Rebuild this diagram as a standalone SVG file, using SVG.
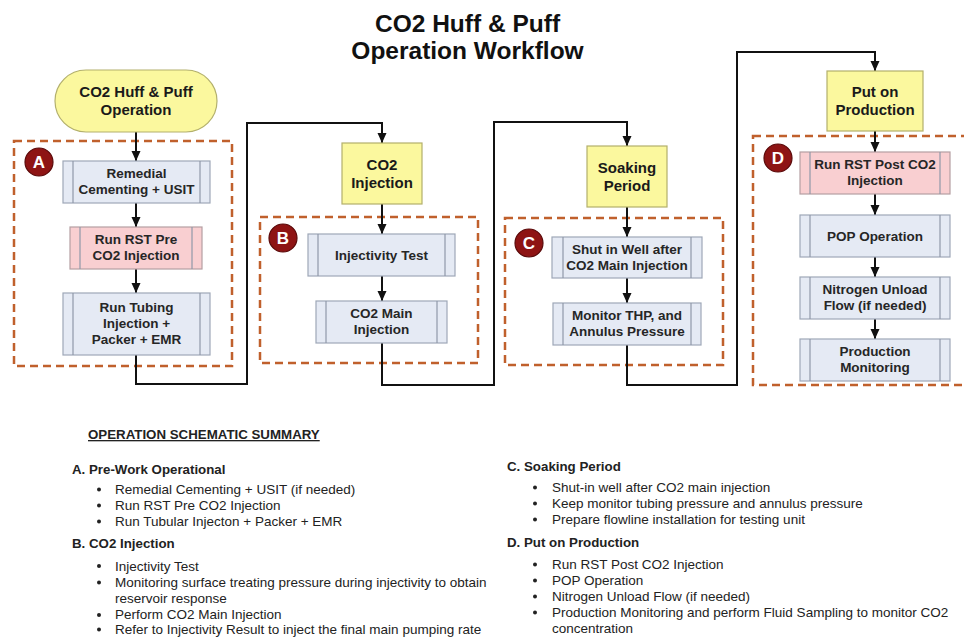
<svg xmlns="http://www.w3.org/2000/svg" width="964" height="637" viewBox="0 0 964 637">
<defs>
<marker id="arr" markerUnits="userSpaceOnUse" markerWidth="10" markerHeight="10" refX="10" refY="5" orient="auto">
<path d="M0,0.5 L10,5 L0,9.5 z" fill="#111"/>
</marker>
<style>
.title{font-family:"Liberation Sans",Arial,sans-serif;font-weight:bold;font-size:24.5px;fill:#111;text-anchor:middle}
.nt{font-family:"Liberation Sans",Arial,sans-serif;font-weight:bold;font-size:13.5px;fill:#262626;text-anchor:middle}
.yt{font-family:"Liberation Sans",Arial,sans-serif;font-weight:bold;font-size:15px;fill:#1a1a1a;text-anchor:middle}
.proc{fill:#e5eaf4;stroke:#9ea7b7;stroke-width:1.2}
.pink{fill:#f9cfd1;stroke:#b59fa2;stroke-width:1.2}
.inner{stroke:#8f98a8;stroke-width:1.2}
.yel{fill:#fbf89e;stroke:#b3b06c;stroke-width:1.2}
.grp{fill:none;stroke:#c0602c;stroke-width:2.5;stroke-dasharray:8 5}
.badge{fill:#8e1414;stroke:#5a0a0a;stroke-width:1.2}
.bt{font-family:"Liberation Sans",Arial,sans-serif;font-weight:bold;font-size:17px;fill:#fff;text-anchor:middle}
.conn{fill:none;stroke:#111;stroke-width:2}
.sh{font-family:"Liberation Sans",Arial,sans-serif;font-weight:bold;font-size:13.3px;fill:#222}
.st{font-family:"Liberation Sans",Arial,sans-serif;font-size:13.5px;fill:#222}
.dot{fill:#222}
</style>
</defs>
<rect width="964" height="637" fill="#fff"/>

<g id="title">
<text class="title" x="467.5" y="32">CO2 Huff &amp; Puff</text>
<text class="title" x="467.5" y="59">Operation Workflow</text>
</g>

<g id="groupA">
<rect class="grp" x="14" y="141" width="218" height="225"/>
<circle class="badge" cx="39" cy="162" r="14"/>
<text class="bt" x="39" y="168">A</text>
</g>
<g id="groupB">
<rect class="grp" x="260" y="217" width="218" height="146"/>
<circle class="badge" cx="283" cy="238" r="14"/>
<text class="bt" x="283" y="244">B</text>
</g>
<g id="groupC">
<rect class="grp" x="505" y="218" width="218" height="147"/>
<circle class="badge" cx="529" cy="243" r="14"/>
<text class="bt" x="529" y="249">C</text>
</g>
<g id="groupD">
<rect class="grp" x="753" y="136" width="240" height="249"/>
<circle class="badge" cx="778" cy="158" r="14"/>
<text class="bt" x="778" y="164">D</text>
</g>

<g id="connectors">
<path class="conn" d="M136,132 V161" marker-end="url(#arr)"/>
<path class="conn" d="M136,203 V227" marker-end="url(#arr)"/>
<path class="conn" d="M136,269 V293" marker-end="url(#arr)"/>
<path class="conn" d="M136,355 V384 H247 V123 H382 V143" marker-end="url(#arr)"/>
<path class="conn" d="M382,204 V234" marker-end="url(#arr)"/>
<path class="conn" d="M382,276 V301" marker-end="url(#arr)"/>
<path class="conn" d="M382,343 V385 H494 V122 H627 V146" marker-end="url(#arr)"/>
<path class="conn" d="M627,207 V237" marker-end="url(#arr)"/>
<path class="conn" d="M627,278 V303" marker-end="url(#arr)"/>
<path class="conn" d="M627,345 V385 H737 V52 H875 V71" marker-end="url(#arr)"/>
<path class="conn" d="M875,131 V152" marker-end="url(#arr)"/>
<path class="conn" d="M875,194 V215" marker-end="url(#arr)"/>
<path class="conn" d="M875,257 V277" marker-end="url(#arr)"/>
<path class="conn" d="M875,319 V339" marker-end="url(#arr)"/>
</g>

<g id="start">
<rect class="yel" x="55" y="70" width="162" height="62" rx="31"/>
<text class="yt" x="136" y="97">CO2 Huff &amp; Puff</text>
<text class="yt" x="136" y="115">Operation</text>
</g>

<g id="remedial">
<rect class="proc" x="63" y="161" width="147" height="42"/>
<line class="inner" x1="73" y1="161" x2="73" y2="203"/><line class="inner" x1="200" y1="161" x2="200" y2="203"/>
<text class="nt" x="136.5" y="178">Remedial</text>
<text class="nt" x="136.5" y="194">Cementing + USIT</text>
</g>
<g id="rstpre">
<rect class="pink" x="70" y="227" width="132" height="42"/>
<line class="inner" x1="80" y1="227" x2="80" y2="269"/><line class="inner" x1="192" y1="227" x2="192" y2="269"/>
<text class="nt" x="136" y="244">Run RST Pre</text>
<text class="nt" x="136" y="260">CO2 Injection</text>
</g>
<g id="tubing">
<rect class="proc" x="63" y="293" width="147" height="62"/>
<line class="inner" x1="73" y1="293" x2="73" y2="355"/><line class="inner" x1="200" y1="293" x2="200" y2="355"/>
<text class="nt" x="136.5" y="312">Run Tubing</text>
<text class="nt" x="136.5" y="328">Injection +</text>
<text class="nt" x="136.5" y="344">Packer + EMR</text>
</g>

<g id="co2injection">
<rect class="yel" x="342" y="143" width="80" height="61"/>
<text class="yt" x="382" y="170">CO2</text>
<text class="yt" x="382" y="188">Injection</text>
</g>
<g id="injtest">
<rect class="proc" x="308" y="234" width="147" height="42"/>
<line class="inner" x1="318" y1="234" x2="318" y2="276"/><line class="inner" x1="445" y1="234" x2="445" y2="276"/>
<text class="nt" x="381.5" y="260">Injectivity Test</text>
</g>
<g id="co2main">
<rect class="proc" x="316" y="301" width="131" height="42"/>
<line class="inner" x1="326" y1="301" x2="326" y2="343"/><line class="inner" x1="437" y1="301" x2="437" y2="343"/>
<text class="nt" x="381.5" y="318">CO2 Main</text>
<text class="nt" x="381.5" y="334">Injection</text>
</g>

<g id="soaking">
<rect class="yel" x="587" y="146" width="80" height="61"/>
<text class="yt" x="627" y="173">Soaking</text>
<text class="yt" x="627" y="191">Period</text>
</g>
<g id="shutin">
<rect class="proc" x="552" y="237" width="150" height="41"/>
<line class="inner" x1="563" y1="237" x2="563" y2="278"/><line class="inner" x1="691" y1="237" x2="691" y2="278"/>
<text class="nt" x="627" y="254">Shut in Well after</text>
<text class="nt" x="627" y="270">CO2 Main Injection</text>
</g>
<g id="monitor">
<rect class="proc" x="553" y="303" width="148" height="42"/>
<line class="inner" x1="563" y1="303" x2="563" y2="345"/><line class="inner" x1="691" y1="303" x2="691" y2="345"/>
<text class="nt" x="627" y="320">Monitor THP, and</text>
<text class="nt" x="627" y="336">Annulus Pressure</text>
</g>

<g id="putonproduction">
<rect class="yel" x="827" y="71" width="96" height="60"/>
<text class="yt" x="875" y="97">Put on</text>
<text class="yt" x="875" y="115">Production</text>
</g>
<g id="rstpost">
<rect class="pink" x="800" y="152" width="150" height="42"/>
<line class="inner" x1="810" y1="152" x2="810" y2="194"/><line class="inner" x1="940" y1="152" x2="940" y2="194"/>
<text class="nt" x="875" y="169">Run RST Post CO2</text>
<text class="nt" x="875" y="185">Injection</text>
</g>
<g id="pop">
<rect class="proc" x="800" y="215" width="150" height="42"/>
<line class="inner" x1="810" y1="215" x2="810" y2="257"/><line class="inner" x1="940" y1="215" x2="940" y2="257"/>
<text class="nt" x="875" y="241">POP Operation</text>
</g>
<g id="nitrogen">
<rect class="proc" x="800" y="277" width="150" height="42"/>
<line class="inner" x1="810" y1="277" x2="810" y2="319"/><line class="inner" x1="940" y1="277" x2="940" y2="319"/>
<text class="nt" x="875" y="294">Nitrogen Unload</text>
<text class="nt" x="875" y="310">Flow (if needed)</text>
</g>
<g id="prodmon">
<rect class="proc" x="800" y="339" width="150" height="42"/>
<line class="inner" x1="810" y1="339" x2="810" y2="381"/><line class="inner" x1="940" y1="339" x2="940" y2="381"/>
<text class="nt" x="875" y="356">Production</text>
<text class="nt" x="875" y="372">Monitoring</text>
</g>

<g id="summary">
<text class="sh" x="88" y="439" text-decoration="underline">OPERATION SCHEMATIC SUMMARY</text>
<text class="sh" x="72" y="474">A. Pre-Work Operational</text>
<circle class="dot" cx="99" cy="489.5" r="2"/><text class="st" x="115" y="494">Remedial Cementing + USIT (if needed)</text>
<circle class="dot" cx="99" cy="505.5" r="2"/><text class="st" x="115" y="510">Run RST Pre CO2 Injection</text>
<circle class="dot" cx="99" cy="521.5" r="2"/><text class="st" x="115" y="526">Run Tubular Injecton + Packer + EMR</text>
<text class="sh" x="72" y="548">B. CO2 Injection</text>
<circle class="dot" cx="99" cy="566" r="2"/><text class="st" x="115" y="570.5">Injectivity Test</text>
<circle class="dot" cx="99" cy="582.5" r="2"/><text class="st" x="115" y="587">Monitoring surface treating pressure during injectivity to obtain</text>
<text class="st" x="115" y="603">reservoir response</text>
<circle class="dot" cx="99" cy="615" r="2"/><text class="st" x="115" y="619">Perform CO2 Main Injection</text>
<circle class="dot" cx="99" cy="629.5" r="2"/><text class="st" x="115" y="634">Refer to Injectivity Result to inject the final main pumping rate</text>

<text class="sh" x="507" y="471">C. Soaking Period</text>
<circle class="dot" cx="535" cy="487.5" r="2"/><text class="st" x="552" y="492">Shut-in well after CO2 main injection</text>
<circle class="dot" cx="535" cy="503.5" r="2"/><text class="st" x="552" y="508">Keep monitor tubing pressure and annulus pressure</text>
<circle class="dot" cx="535" cy="519.5" r="2"/><text class="st" x="552" y="524">Prepare flowline installation for testing unit</text>
<text class="sh" x="507" y="547">D. Put on Production</text>
<circle class="dot" cx="535" cy="564.5" r="2"/><text class="st" x="552" y="569">Run RST Post CO2 Injection</text>
<circle class="dot" cx="535" cy="580.5" r="2"/><text class="st" x="552" y="585">POP Operation</text>
<circle class="dot" cx="535" cy="596.5" r="2"/><text class="st" x="552" y="601">Nitrogen Unload Flow (if needed)</text>
<circle class="dot" cx="535" cy="612.5" r="2"/><text class="st" x="552" y="617">Production Monitoring and perform Fluid Sampling to monitor CO2</text>
<text class="st" x="552" y="633">concentration</text>
</g>
</svg>
